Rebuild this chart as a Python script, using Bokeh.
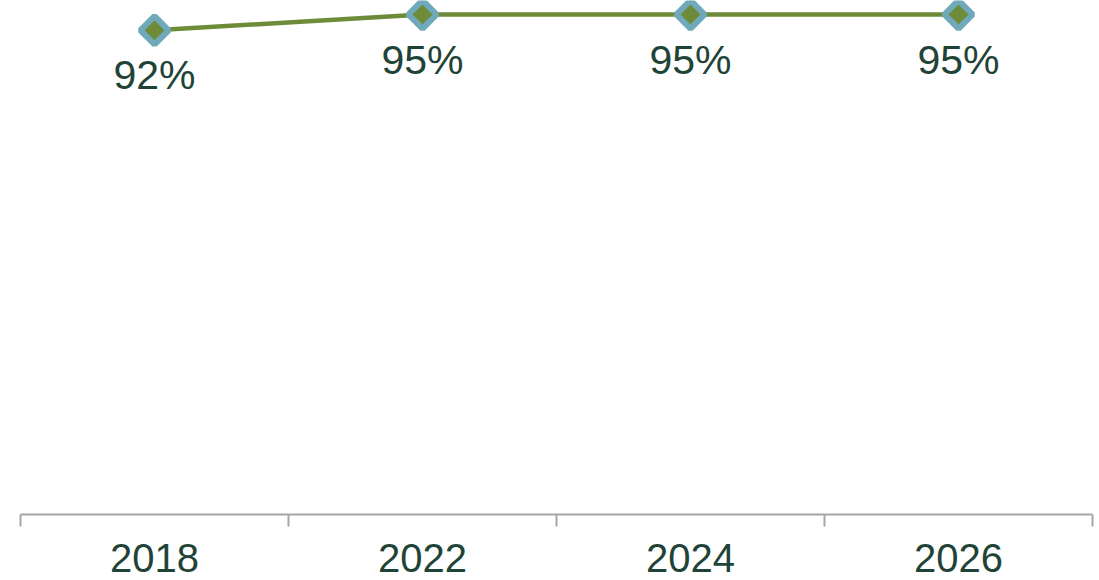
from bokeh.plotting import figure
from bokeh.models import Range1d, FixedTicker, ColumnDataSource, LinearAxis
from bokeh.core.properties import value
from bokeh.embed import file_html
from bokeh.resources import INLINE
import math

years = ["2018", "2022", "2024", "2026"]
share = [92, 95, 95, 95]
labels = ["92%", "95%", "95%", "95%"]

x = [i + 0.5 for i in range(len(years))]
src = ColumnDataSource(dict(x=x, y=share, lab=labels))

p = figure(width=1099, height=580, output_backend="svg", toolbar_location=None,
           x_range=Range1d(0, len(years)), y_range=Range1d(0, 97.66),
           x_axis_type=None, y_axis_type=None,
           min_border_left=20, min_border_right=7, min_border_top=0, min_border_bottom=66)
p.outline_line_color = None
p.xgrid.visible = False
p.ygrid.visible = False
p.background_fill_color = "white"
p.border_fill_color = "white"

ax = LinearAxis(ticker=FixedTicker(ticks=x, minor_ticks=list(range(len(years) + 1))))
ax.major_label_overrides = {xi: y for xi, y in zip(x, years)}
ax.major_tick_out = 0
ax.major_tick_in = 0
ax.minor_tick_out = 12
ax.minor_tick_in = 0
ax.minor_tick_line_color = "#A6A6A6"
ax.minor_tick_line_width = 2
ax.axis_line_color = "#A6A6A6"
ax.axis_line_width = 2
ax.major_label_text_font = "Liberation Sans"
ax.major_label_text_font_size = "40px"
ax.major_label_text_color = "#1F4437"
ax.major_label_standoff = 17
p.add_layout(ax, "below")

p.line("x", "y", source=src, line_color="#6E8B3A", line_width=4.5)
p.scatter("x", "y", source=src, marker="square", size=20, angle=math.pi / 4,
          fill_color="#6E8B3A", line_color="#6FA9BA", line_width=6)
p.text("x", "y", text="lab", source=src, text_align="center", text_baseline="top",
       y_offset=22, text_font=value("Liberation Sans"), text_font_size="41px",
       text_color="#1F4437")

open("out.html", "w").write(file_html(p, INLINE))
